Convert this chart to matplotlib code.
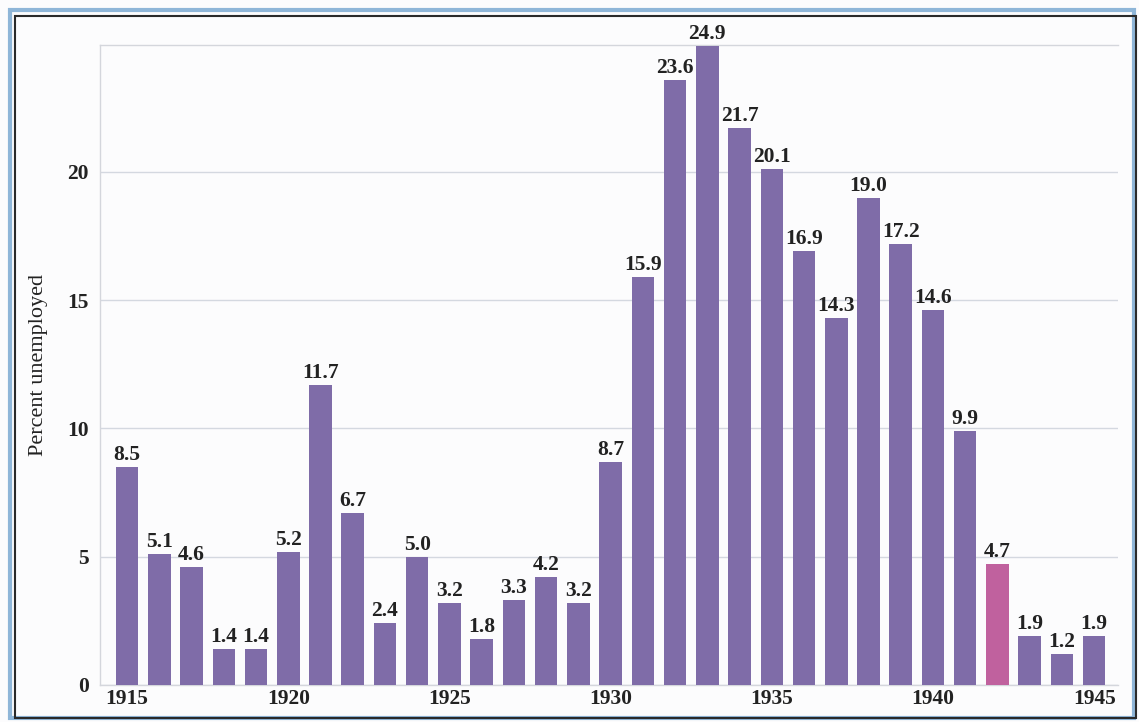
import matplotlib.pyplot as plt
from matplotlib.patches import Rectangle

# unemployment data 1915-1945
years = list(range(1915, 1946))
rates = [8.5, 5.1, 4.6, 1.4, 1.4, 5.2, 11.7, 6.7, 2.4, 5.0, 3.2, 1.8, 3.3, 4.2, 3.2,
         8.7, 15.9, 23.6, 24.9, 21.7, 20.1, 16.9, 14.3, 19.0, 17.2, 14.6, 9.9,
         4.7, 1.9, 1.2, 1.9]
highlight_year = 1942
xtick_years = [1915, 1920, 1925, 1930, 1935, 1940, 1945]
ytick_vals = [0, 5, 10, 15, 20]

purple = '#7f6ca8'
pink = '#c0619e'
colors = [pink if y == highlight_year else purple for y in years]
serif = 'Liberation Serif'

fig = plt.figure(figsize=(11.39, 7.22), dpi=100)
fig.patch.set_facecolor('#fcfcfd')
ax = fig.add_axes([100/1139, 37/722, 1018/1139, 640/722])
ax.set_facecolor('none')

ax.bar(years, rates, width=0.7, color=colors, zorder=3)
for y, r in zip(years, rates):
    ax.text(y, r + 0.08, f"{r:.1f}", ha='center', va='bottom', fontsize=15.5,
            fontweight='bold', family=serif, color='#222222',
            clip_on=False, zorder=4)

ax.set_xlim(1914.16, 1945.74)
ax.set_ylim(0, 24.95)
ax.set_xticks(xtick_years)
ax.set_yticks(ytick_vals)
ax.tick_params(length=0, labelsize=15.5, colors='#222222')
ax.tick_params(axis='x', pad=3)
ax.tick_params(axis='y', pad=8)
for lab in ax.get_xticklabels() + ax.get_yticklabels():
    lab.set_family(serif)
    lab.set_fontweight('bold')

ax.grid(axis='y', color='#d4d8e0', linewidth=1, zorder=0)
for s in ['left', 'top', 'bottom']:
    ax.spines[s].set_color('#d4d6dc')
    ax.spines[s].set_linewidth(1)
ax.spines['right'].set_visible(False)

ax.set_ylabel("Percent unemployed", fontsize=16, family=serif, color='#222222')
ax.yaxis.set_label_coords(-52/1018, 0.5)

# page frame
fig.patches.append(Rectangle((10/1139, 4/722), 1124/1139, 708/722, transform=fig.transFigure,
                             fill=False, edgecolor='#8fb6d8', linewidth=3))
fig.patches.append(Rectangle((15/1139, 4/722), 1121/1139, 702/722, transform=fig.transFigure,
                             fill=False, edgecolor='#2a2a2a', linewidth=1.5))

fig.savefig("out.png", dpi=100, facecolor=fig.get_facecolor())
